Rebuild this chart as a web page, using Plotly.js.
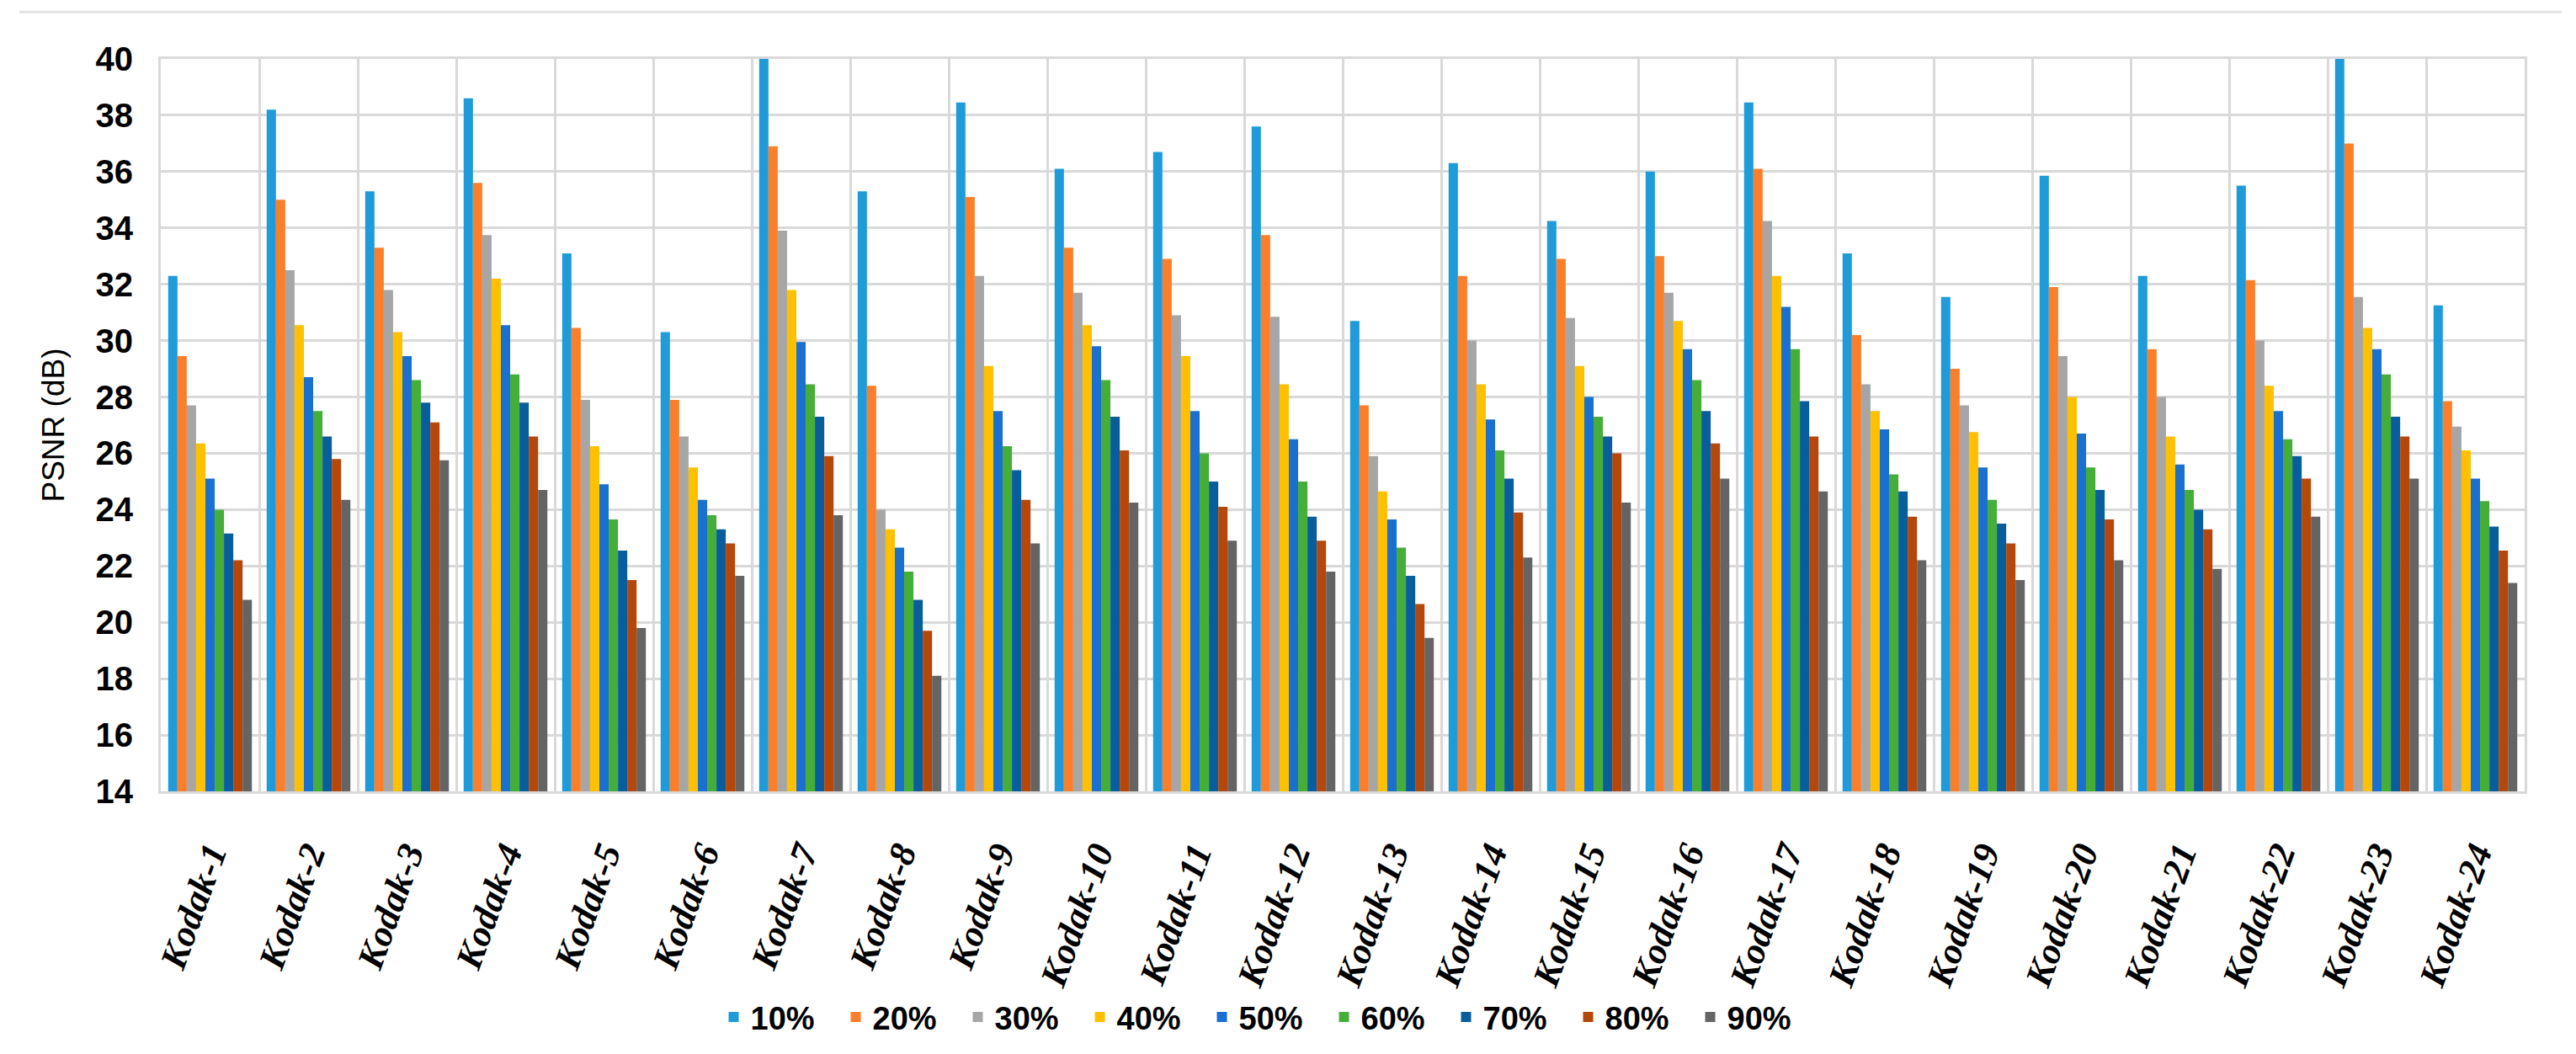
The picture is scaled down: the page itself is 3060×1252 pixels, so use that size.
<!DOCTYPE html>
<html>
<head>
<meta charset="utf-8">
<script src="https://cdn.plot.ly/plotly-3.0.1.min.js"></script>
<style>html,body{margin:0;padding:0;background:#fff;}#chart{width:3060px;height:1252px;}</style>
</head>
<body>
<div id="chart"></div>
<script>
const categories = ["Kodak-1","Kodak-2","Kodak-3","Kodak-4","Kodak-5","Kodak-6","Kodak-7","Kodak-8","Kodak-9","Kodak-10","Kodak-11","Kodak-12","Kodak-13","Kodak-14","Kodak-15","Kodak-16","Kodak-17","Kodak-18","Kodak-19","Kodak-20","Kodak-21","Kodak-22","Kodak-23","Kodak-24"];
const seriesNames = ["10%","20%","30%","40%","50%","60%","70%","80%","90%"];
const psnr10 = [32.3,38.2,35.3,38.6,33.1,30.3,40.3,35.3,38.45,36.1,36.7,37.6,30.7,36.3,34.25,36.0,38.45,33.1,31.55,35.85,32.3,35.5,40.4,31.25];
const psnr20 = [29.45,35.0,33.3,35.6,30.45,27.9,36.9,28.4,35.1,33.3,32.9,33.75,27.7,32.3,32.9,33.0,36.1,30.2,29.0,31.9,29.7,32.15,37.0,27.85];
const psnr30 = [27.7,32.5,31.8,33.75,27.9,26.6,33.9,24.0,32.3,31.7,30.9,30.85,25.9,30.0,30.8,31.7,34.25,28.45,27.7,29.45,28.0,30.0,31.55,26.95];
const psnr40 = [26.35,30.55,30.3,32.2,26.25,25.5,31.8,23.3,29.1,30.55,29.45,28.45,24.65,28.45,29.1,30.7,32.3,27.5,26.75,28.0,26.6,28.4,30.45,26.1];
const psnr50 = [25.1,28.7,29.45,30.55,24.9,24.35,29.95,22.65,27.5,29.8,27.5,26.5,23.65,27.2,28.0,29.7,31.2,26.85,25.5,26.7,25.6,27.5,29.7,25.1];
const psnr60 = [24.0,27.5,28.6,28.8,23.65,23.8,28.45,21.8,26.25,28.6,26.0,25.0,22.65,26.1,27.3,28.6,29.7,25.25,24.35,25.5,24.7,26.5,28.8,24.3];
const psnr70 = [23.15,26.6,27.8,27.8,22.55,23.3,27.3,20.8,25.4,27.3,25.0,23.75,21.65,25.1,26.6,27.5,27.85,24.65,23.5,24.7,24.0,25.9,27.3,23.4];
const psnr80 = [22.2,25.8,27.1,26.6,21.5,22.8,25.9,19.7,24.35,26.1,24.1,22.9,20.65,23.9,26.0,26.35,26.6,23.75,22.8,23.65,23.3,25.1,26.6,22.55];
const psnr90 = [20.8,24.35,25.75,24.7,19.8,21.65,23.8,18.1,22.8,24.25,22.9,21.8,19.45,22.3,24.25,25.1,24.65,22.2,21.5,22.2,21.9,23.75,25.1,21.4];
const yTicks = [14,16,18,20,22,24,26,28,30,32,34,36,38,40];

const allSeries = [psnr10,psnr20,psnr30,psnr40,psnr50,psnr60,psnr70,psnr80,psnr90];
const colors = ["#1E9BD8","#FB7F2A","#A6A6A6","#FFC000","#1A70CF","#45AE38","#085E9C","#B5470B","#646464"];

const traces = allSeries.map((vals, i) => ({
  type: "bar",
  name: seriesNames[i],
  x: categories,
  y: vals,
  marker: {color: colors[i], line: {width: 0}},
  hoverinfo: "x+y+name"
}));

const layout = {
  width: 3060,
  height: 1252,
  paper_bgcolor: "#ffffff",
  plot_bgcolor: "#ffffff",
  margin: {l: 191, r: 61, t: 70, b: 310},
  barmode: "group",
  bargap: 0.15,
  bargroupgap: 0,
  showlegend: true,
  legend: {
    orientation: "h",
    x: 0.4676, xanchor: "center",
    y: -0.3085, yanchor: "middle",
    font: {family: "Liberation Sans Narrow, Liberation Sans, Arial, sans-serif", size: 38, color: "#000", weight: "bold"},
    entrywidth: 100,
    entrywidthmode: "pixels",
    itemwidth: 30,
    tracegroupgap: 0
  },
  xaxis: {
    type: "category",
    tickson: "boundaries",
    showgrid: true,
    gridcolor: "#D9D9D9",
    gridwidth: 3,
    showline: true,
    linecolor: "#D9D9D9",
    linewidth: 3,
    mirror: true,
    ticks: "",
    tickangle: -70,
    ticklabelstandoff: 28,
    tickfont: {family: "Liberation Serif, Times New Roman, serif", size: 44, color: "#000", weight: "bold", style: "italic"},
    zeroline: false
  },
  yaxis: {
    range: [14, 40],
    tickvals: yTicks,
    ticktext: yTicks.map(String),
    showgrid: true,
    gridcolor: "#D9D9D9",
    gridwidth: 3,
    showline: true,
    linecolor: "#D9D9D9",
    linewidth: 3,
    mirror: true,
    ticks: "",
    ticklabelstandoff: 22,
    tickfont: {family: "Liberation Sans Narrow, Liberation Sans, Arial, sans-serif", size: 40, color: "#000", weight: "bold"},
    zeroline: false,
    title: {text: "PSNR (dB)", font: {family: "Liberation Sans, Arial, sans-serif", size: 37, color: "#000"}, standoff: 26}
  },
  shapes: [{
    type: "line", xref: "paper", yref: "paper",
    x0: -0.0598, x1: 1.0157, y0: 1.0642, y1: 1.0642,
    line: {color: "#E3E3E3", width: 3}
  }]
};

Plotly.newPlot("chart", traces, layout, {displayModeBar: false, responsive: false});
</script>
</body>
</html>
